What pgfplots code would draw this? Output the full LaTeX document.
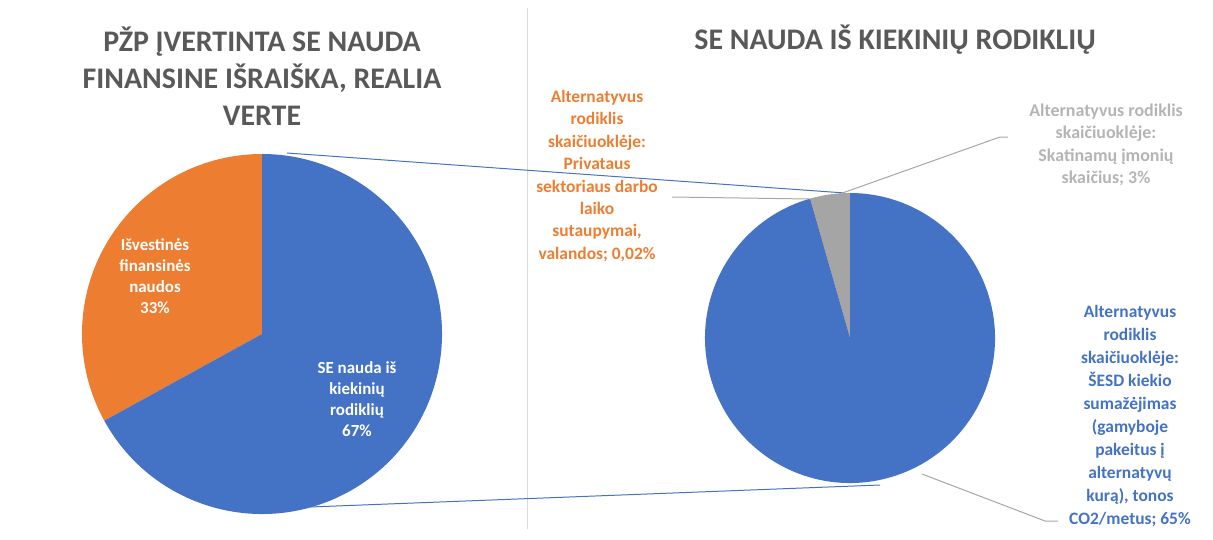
\documentclass[border=0pt]{standalone}
\usepackage{fontspec}
\setmainfont{Carlito}
\usepackage{pgfplots}
\pgfplotsset{compat=1.18}
\usepackage{pgfplotstable}
\definecolor{pieblue}{HTML}{4472C4}
\definecolor{pieorange}{HTML}{ED7D31}
\definecolor{piegray}{HTML}{A5A5A5}
\definecolor{titlegray}{HTML}{595959}
\definecolor{lblgray}{HTML}{B4B4B4}
\definecolor{divider}{HTML}{D9D9D9}
\definecolor{leader}{HTML}{A6A6A6}

% shares of the main pie (%)
\pgfplotstableread{
part value
derived 33
quantity 67
}\leftpie
% split of the quantitative part (%)
\pgfplotstableread{
part value
firms 3
hours 0.02
co2 65
}\rightpie

\begin{document}
\begin{tikzpicture}
\pgfplotstablegetelem{0}{value}\of\leftpie \let\lA\pgfplotsretval
\pgfplotstablegetelem{1}{value}\of\leftpie \let\lB\pgfplotsretval
\pgfplotstablegetelem{0}{value}\of\rightpie \let\rA\pgfplotsretval
\pgfplotstablegetelem{1}{value}\of\rightpie \let\rB\pgfplotsretval
\pgfplotstablegetelem{2}{value}\of\rightpie \let\rC\pgfplotsretval
\pgfmathsetmacro{\lcut}{90+360*\lA/(\lA+\lB)}
\pgfmathsetmacro{\rcutA}{90+360*\rA/(\rA+\rB+\rC)}
\pgfmathsetmacro{\rcutB}{\rcutA+360*\rB/(\rA+\rB+\rC)}
\begin{axis}[
  width=1213bp, height=529bp, scale only axis,
  xmin=0, xmax=1213, ymin=0, ymax=529, y dir=reverse,
  axis lines=none, clip=false,
]
\path (axis cs:0,0) rectangle (axis cs:1213,529);
% divider
\draw[divider, line width=0.8pt] (axis cs:527,8) -- (axis cs:527,529);
% connector lines
\draw[pieblue, line width=1pt] (axis cs:287,153) -- (axis cs:845,193);
\draw[pieblue, line width=1pt] (axis cs:310,507) -- (axis cs:880,485);
% left pie
\fill[pieorange] (axis cs:262,334) -- ++(90:180bp)
  arc[start angle=90, end angle=\lcut, radius=180bp] -- cycle;
\fill[pieblue] (axis cs:262,334) -- ++(\lcut:180bp)
  arc[start angle=\lcut, end angle=450, radius=180bp] -- cycle;
% right pie
\fill[piegray] (axis cs:850,338) -- ++(90:145bp)
  arc[start angle=90, end angle=\rcutA, radius=145bp] -- cycle;
\fill[pieorange] (axis cs:850,338) -- ++(\rcutA:145bp)
  arc[start angle=\rcutA, end angle=\rcutB, radius=145bp] -- cycle;
\fill[pieblue] (axis cs:850,338) -- ++(\rcutB:145bp)
  arc[start angle=\rcutB, end angle=450, radius=145bp] -- cycle;
% leader lines
\draw[leader, line width=1pt] (axis cs:672,197) -- (axis cs:810,199);
\draw[leader, line width=1pt] (axis cs:834,196) -- (axis cs:1000,137) -- (axis cs:1008,137);
\draw[leader, line width=1pt] (axis cs:922,474) -- (axis cs:1045,521) -- (axis cs:1058,521);
% titles
\node[titlegray, align=center, font=\fontsize{30}{37}\selectfont\bfseries]
  at (axis cs:262,76) {PŽP ĮVERTINTA SE NAUDA\\FINANSINE IŠRAIŠKA, REALIA\\VERTE};
\node[titlegray, font=\fontsize{30}{37}\selectfont\bfseries]
  at (axis cs:895,40) {SE NAUDA IŠ KIEKINIŲ RODIKLIŲ};
% slice labels
\node[white, align=center, font=\fontsize{17}{21}\selectfont\bfseries]
  at (axis cs:155,276) {Išvestinės\\finansinės\\naudos\\33\%};
\node[white, align=center, font=\fontsize{17}{21}\selectfont\bfseries]
  at (axis cs:357,399) {SE nauda iš\\kiekinių\\rodiklių\\67\%};
\node[pieorange, align=center, font=\fontsize{17.5}{22.5}\selectfont\bfseries]
  at (axis cs:597,176) {Alternatyvus\\rodiklis\\skaičiuoklėje:\\Privataus\\sektoriaus darbo\\laiko\\sutaupymai,\\valandos; 0,02\%};
\node[lblgray, align=center, font=\fontsize{18}{22.5}\selectfont\bfseries]
  at (axis cs:1106,145) {Alternatyvus rodiklis\\skaičiuoklėje:\\Skatinamų įmonių\\skaičius; 3\%};
\node[pieblue, align=center, font=\fontsize{17.5}{23}\selectfont\bfseries]
  at (axis cs:1130,416) {Alternatyvus\\rodiklis\\skaičiuoklėje:\\ŠESD kiekio\\sumažėjimas\\(gamyboje\\pakeitus į\\alternatyvų\\kurą), tonos\\CO2/metus; 65\%};
\end{axis}
\end{tikzpicture}
\end{document}
